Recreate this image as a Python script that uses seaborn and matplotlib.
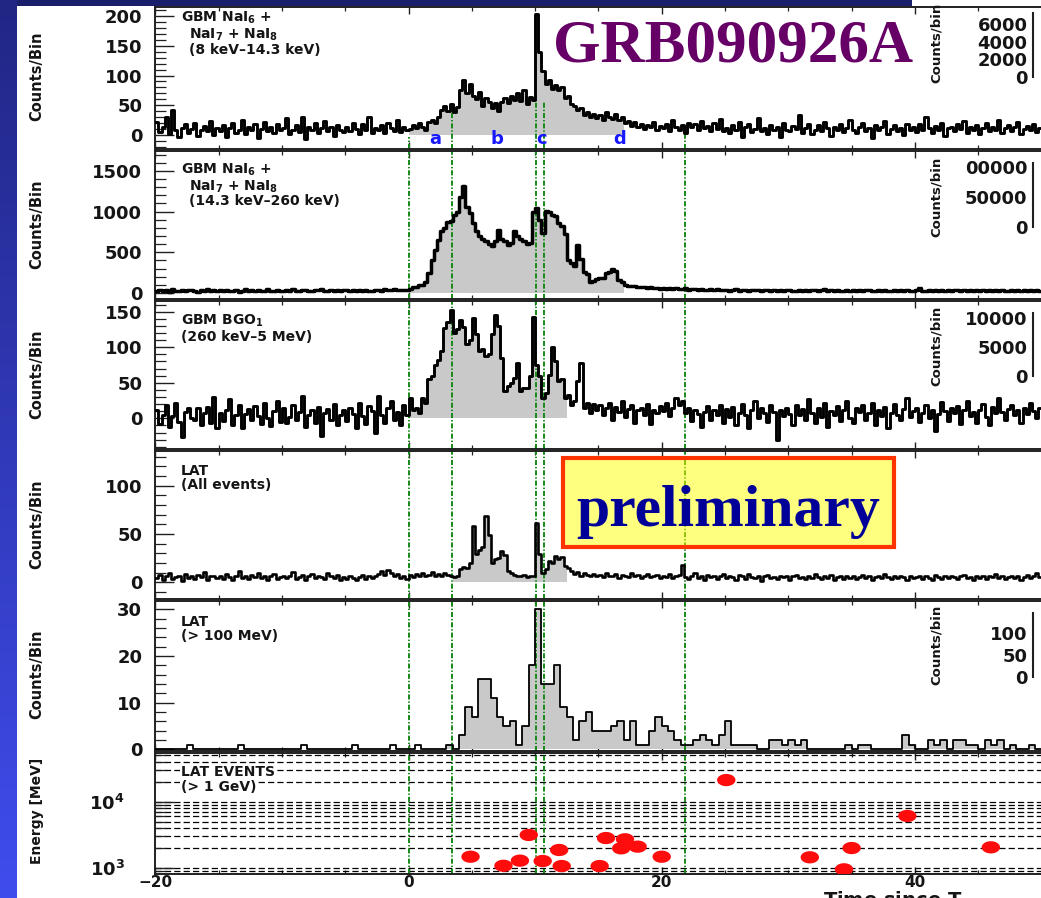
import numpy as np
import pandas as pd
import matplotlib
matplotlib.use("Agg")
import matplotlib.pyplot as plt
import seaborn as sns
from matplotlib.patches import Rectangle
from matplotlib.path import Path
from matplotlib.markers import MarkerStyle
from matplotlib.ticker import (MultipleLocator, FixedLocator, FixedFormatter,
                               LogLocator, NullFormatter)

# ---------------------------------------------------------------------------
# Light curves (counts per bin); bins start at T_START
# ---------------------------------------------------------------------------
T_START = -20.0
BIN_GBM = 0.25
BIN_LAT = 0.5

# GBM NaI 6+7+8, 8 keV - 14.3 keV
nai_low = [
    22, 5, 14, 30, 2, 42, 8, -4, 12, 18, 3, 10, 20, -2, 9, 15, 6, 24, 0, 11,
    7, 16, -3, 12, 21, 4, 9, 26, 1, 13, 8, 18, -5, 10, 22, 6, 14, 3, 19, 8,
    12, 28, 2, 9, 17, 5, 30, -6, 14, 8, 20, 3, 11, 24, 7, 13, -2, 16, 9, 5,
    14, 6, 21, 10, 2, 18, 8, 31, 4, 12, 9, 16, 3, 20, 11, 7, 25, 5, 13, 9,
    10, 17, 12, 20, 14, 9, 22, 26, 20, 31, 42, 48, 40, 52, 38, 47, 76, 92, 70, 85,
    66, 60, 72, 48, 63, 55, 46, 53, 41, 56, 62, 54, 66, 59, 71, 57, 76, 52, 64, 58,
    204, 140, 108, 86, 92, 78, 84, 76, 80, 62, 66, 52, 48, 42, 46, 34, 38, 30, 36, 28,
    34, 26, 38, 30, 27, 35, 25, 31, 20, 24, 15, 22, 14, 19, 10, 17, 13, 22, 8, 15,
    12, 19, 6, 26, 14, 9, 17, 4, 21, 13, 18, 8, 24, 11, 15, 7, 20, 10, 27, 6,
    11, 3, 16, 9, 22, -3, 13, 18, 5, 10, 28, 7, 12, 2, 17, 9, 14, -4, 20, 8,
    6, 15, 10, 34, 4, 12, 19, 1, 9, 16, 7, 22, 11, -2, 14, 8, 18, 5, 12, 25,
    9, 3, 14, 20, 6, 11, -5, 16, 8, 13, 24, 2, 10, 17, 7, 12, 0, 19, 9, 14,
    5, 18, 8, 30, 12, 3, 15, 9, 21, -2, 11, 14, 6, 19, 10, 24, 4, 13, 8, 16,
    2, 12, 20, 7, 14, 9, 26, 3, 11, 17, 6, 13, 22, 1, 10, 15, 8, 19, 5, 12,
]

# GBM NaI 6+7+8, 14.3 keV - 260 keV
nai_high = [
    28, 40, 22, 35, 18, 45, 30, 25, 38, 20, 33, 42, 27, 15, 36, 29, 48, 24, 31, 19,
    34, 26, 41, 22, 30, 38, 17, 29, 44, 25, 33, 21, 39, 28, 24, 46, 30, 19, 35, 27,
    23, 37, 30, 48, 26, 19, 34, 41, 28, 22, 36, 31, 45, 24, 29, 38, 20, 33, 27, 40,
    31, 25, 39, 28, 43, 22, 35, 30, 26, 41, 33, 29, 47, 38, 32, 44, 36, 40, 34, 42,
    55, 68, 72, 95, 104, 140, 240, 405, 530, 650, 760, 800, 875, 880, 960, 1000, 1180, 1320, 1060, 980,
    855, 760, 700, 660, 640, 600, 580, 640, 780, 660, 640, 590, 620, 760, 700, 660, 640, 600, 620, 1000,
    1050, 900, 740, 1010, 1000, 960, 940, 860, 820, 720, 400, 370, 330, 590, 420, 262, 230, 140, 150, 175,
    180, 190, 240, 260, 300, 270, 160, 130, 100, 86, 90, 80, 75, 68, 72, 62, 70, 58, 64, 55,
    60, 52, 57, 48, 63, 50, 45, 58, 40, 53, 47, 36, 50, 42, 38, 46, 33, 44, 39, 35,
    41, 30, 37, 45, 28, 34, 40, 25, 36, 31, 43, 27, 33, 38, 22, 35, 29, 41, 26, 32,
    37, 24, 30, 42, 28, 35, 20, 33, 39, 27, 31, 45, 23, 34, 29, 38, 25, 30, 36, 21,
    33, 27, 40, 24, 31, 36, 22, 29, 43, 26, 34, 30, 19, 37, 28, 32, 25, 41, 27, 30,
    35, 62, 30, 24, 38, 28, 33, 21, 36, 29, 40, 26, 31, 35, 23, 39, 28, 33, 26, 37,
    24, 32, 29, 41, 27, 34, 22, 36, 30, 26, 38, 25, 33, 29, 42, 27, 31, 24, 35, 28,
]

# GBM BGO 1, 260 keV - 5 MeV
bgo = [
    12, -8, 5, 18, -12, 3, 22, -5, -27, 9, 14, 1, -3, 15, -10, 7, 16, -6, 30, -14,
    8, -4, 11, 27, -9, 4, 19, -13, 6, 13, -2, 17, 3, -8, 21, 0, -11, 10, 24, -5,
    14, -7, 2, 18, -3, 9, 32, -12, 5, 11, -6, 16, -25, 7, 13, -2, 20, -9, 4, 12,
    -4, 15, 6, -14, 22, 3, -8, 17, 10, -20, 32, 5, -6, 14, 25, -3, 9, -10, 18, 4,
    28, 12, 15, 8, 29, 22, 55, 60, 75, 82, 94, 127, 136, 153, 120, 125, 138, 128, 104, 110,
    141, 118, 94, 98, 87, 90, 118, 146, 130, 85, 38, 45, 50, 57, 78, 38, 42, 43, 60, 143,
    75, 60, 29, 35, 61, 100, 80, 52, 55, 29, 33, 19, 24, 52, 78, 15, 22, 8, 20, 12,
    18, 5, 14, 22, -3, 16, 9, 24, 2, 13, 19, -6, 11, 15, 4, 20, -8, 12, 7, 17,
    10, 21, 3, 14, 28, 18, 24, 8, 15, -4, 12, 6, -12, 9, 17, -2, 11, 5, 19, -7,
    13, 2, 16, -9, 8, 20, 4, -14, 11, 25, 0, 14, 7, -5, 18, 9, -30, 12, 3, 15,
    6, -10, 19, 4, 13, -3, 27, 8, -7, 15, 2, 21, -12, 10, 5, 17, -4, 11, 24, 1,
    -6, 14, 9, 18, -2, 7, 22, -9, 12, 3, 16, -14, 8, 20, 5, -3, 13, 29, 2, 10,
    15, -5, 8, 19, 1, 12, -18, 6, 23, 10, -4, 14, 7, 17, -8, 11, 25, 3, 9, -6,
    12, 20, 2, -10, 16, 7, 28, 9, -3, 13, 19, 4, 11, -7, 15, 6, 22, 10, 1, 14,
]

# LAT, all events
lat_all = [
    4, 8, 2, 6, 10, 3, 5, 7, 1, 9, 4, 6, 3, 8, 5, 11, 2, 6, 7, 4,
    6, 3, 9, 5, 2, 7, 12, 4, 6, 3, 8, 5, 10, 4, 7, 2, 6, 9, 3, 5,
    7, 4, 6, 11, 3, 5, 8, 2, 6, 9, 4, 7, 5, 3, 10, 6, 4, 8, 2, 5,
    3, 6, 4, 2, 5, 8, 3, 6, 4, 7, 9, 12, 8, 13, 10, 6, 9, 4, 7, 3,
    8, 5, 9, 6, 10, 7, 8, 11, 6, 9, 7, 10, 8, 6, 5, 7, 14, 16, 15, 20,
    58, 29, 33, 36, 69, 49, 20, 24, 25, 32, 28, 12, 10, 8, 7, 6, 8, 5, 7, 6,
    61, 29, 10, 14, 22, 20, 27, 24, 26, 17, 15, 12, 9, 11, 7, 10, 8, 6, 9, 7,
    8, 5, 10, 7, 6, 9, 4, 8, 7, 5, 10, 6, 8, 4, 7, 9, 5, 6, 8, 4,
    7, 5, 9, 4, 6, 8, 18, 5, 3, 7, 10, 4, 6, 2, 8, 5, 7, 3, 6, 9,
    4, 7, 5, 2, 8, 6, 3, 9, 5, 4, 7, 1, 6, 8, 4, 5, 3, 7, 5, 6,
    2, 6, 8, 4, 5, 3, 7, 4, 9, 5, 3, 6, 4, 8, 2, 5, 7, 3, 6, 4,
    6, 3, 5, 8, 4, 7, 2, 5, 6, 4, 9, 5, 3, 6, 4, 7, 5, 2, 6, 4,
    5, 7, 3, 6, 4, 2, 8, 5, 3, 6, 4, 7, 5, 3, 6, 8, 4, 5, 2, 6,
    4, 6, 3, 7, 5, 9, 4, 6, 3, 5, 7, 4, 6, 2, 5, 8, 4, 6, 10, 5,
]

# LAT, > 100 MeV (0.5 s bins)
lat_100mev = [
    0, 0, 0, 0, 0, 1, 0, 0, 0, 0,
    0, 0, 0, 1, 0, 0, 0, 0, 0, 0,
    0, 0, 0, 1, 0, 0, 0, 0, 0, 0,
    0, 1, 0, 0, 0, 0, 0, 1, 0, 0,
    0, 1, 0, 0, 0, 0, 1, 0, 3, 9,
    7, 15, 15, 11, 7, 5, 6, 1, 5, 18,
    30, 14, 14, 18, 9, 7, 2, 6, 8, 4,
    4, 4, 5, 6, 2, 6, 1, 1, 4, 7,
    5, 4, 2, 1, 1, 2, 3, 2, 1, 3,
    6, 1, 1, 1, 1, 0, 0, 2, 2, 1,
    2, 1, 2, 0, 0, 0, 0, 0, 0, 1,
    0, 1, 1, 0, 0, 0, 0, 0, 3, 1,
    0, 0, 2, 1, 2, 0, 2, 2, 1, 1,
    0, 2, 1, 2, 0, 1, 0, 0, 1, 0,
]

# LAT events above 1 GeV: arrival time [s] and energy [MeV]
gev_time = [4.9, 7.5, 8.8, 9.5, 10.6, 11.9, 12.1, 15.1, 15.6, 16.8,
            17.1, 18.1, 20.0, 25.1, 31.7, 34.4, 35.0, 39.4, 46.0]
gev_energy = [1480, 1080, 1290, 3150, 1275, 1870, 1070, 1070, 2830, 1980,
              2710, 2100, 1480, 21200, 1450, 955, 2000, 6090, 2050]

# time intervals a-d
interval_edges = [0.0, 3.45, 10.08, 10.7, 21.85]
interval_names = ["a", "b", "c", "d"]
interval_label_t = [2.1, 6.97, 10.5, 16.7]
interval_top_nai_low = [-3, 39, 55, 55, 14]

# shaded (T90-like) spans per light curve
fill_spans = [(0.0, 17.0), (0.0, 17.0), (0.0, 12.5), (3.5, 12.5), (2.0, 51.0)]

# secondary count-rate scales
side_ticks = [[0, 2000, 4000, 6000], [0, 50000, 100000], [0, 5000, 10000], [0, 50, 100]]
side_tick_labels = [["0", "2000", "4000", "6000"], ["0", "50000", "00000"],
                    ["0", "5000", "10000"], ["0", "50", "100"]]
side_max = [7294, 106700, 10918, 145]
side_minor = [250, 5000, 500, 5]

panel_titles = [
    ["GBM NaI$_6$ +", "NaI$_7$ + NaI$_8$", "(8 keV\u201314.3 keV)"],
    ["GBM NaI$_6$ +", "NaI$_7$ + NaI$_8$", "(14.3 keV\u2013260 keV)"],
    ["GBM BGO$_1$", "(260 keV\u20135 MeV)"],
    ["LAT", "(All events)"],
    ["LAT", "(> 100 MeV)"],
    ["LAT EVENTS", "(> 1 GeV)"],
]

# ---------------------------------------------------------------------------
sns.set_theme(style="white")
plt.rcParams["font.family"] = ["DejaVu Sans"]
plt.rcParams["font.weight"] = "bold"
plt.rcParams["mathtext.default"] = "bf"
plt.rcParams["axes.edgecolor"] = "#202020"
plt.rcParams["xtick.color"] = "#202020"
plt.rcParams["ytick.color"] = "#202020"
plt.rcParams["text.color"] = "#151515"

W, H = 1041, 898
X_LEFT, X_RIGHT = 155.3, 1052.0
PX_PER_S = 12.66
XMAX = T_START + (X_RIGHT - X_LEFT) / PX_PER_S
FILL = "#c9c9c9"
GREEN = "#168a16"
INK = "#151515"


def fx(x):
    return x / W


def fy(y):
    return 1 - y / H


def rect(top, bottom):
    return [X_LEFT / W, 1 - bottom / H, (X_RIGHT - X_LEFT) / W, (bottom - top) / H]


fig = plt.figure(figsize=(W / 100, H / 100), dpi=100, facecolor="white")

# slide background: gradient strip on the left, dark band along the top
strip = fig.add_axes([0, 0, 17 / W, 1])
g = np.linspace(0, 1, 256)[:, None]
c_top = np.array([0.13, 0.15, 0.52])
c_bot = np.array([0.25, 0.30, 0.93])
strip.imshow((c_top * (1 - g) + c_bot * g)[:, None, :], aspect="auto", extent=[0, 1, 0, 1])
strip.set_axis_off()
fig.add_artist(Rectangle((0, fy(6)), 912 / W, 6 / H, transform=fig.transFigure,
                         facecolor=(0.10, 0.12, 0.42), edgecolor="none", zorder=0))

panel_px = [(7, 149), (151, 299), (301, 449), (451, 599), (601, 751), (753, 874)]
ylims = [(-23.5, 215.1), (-73.7, 1744.5), (-43.2, 165.0), (-17.3, 135.8), (-0.36, 31.76),
         (10 ** 2.9095, 10 ** 4.7345)]
y_major = [50, 500, 50, 50, 10]
y_minor = [10, 100, 10, 10, 2]

axes = []
for i, (top, bottom) in enumerate(panel_px):
    ax = fig.add_axes(rect(top, bottom))
    ax.set_facecolor("white")
    for s in ax.spines.values():
        s.set_linewidth(1.4)
        s.set_color("#202020")
    axes.append(ax)


def draw_curve(ax, counts, bw, span, lw):
    counts = np.asarray(counts, dtype=float)
    edges = T_START + bw * np.arange(len(counts) + 1)
    df = pd.DataFrame({"t": edges, "n": np.append(counts, counts[-1])})
    sel = (edges >= span[0]) & (edges <= span[1])
    ax.fill_between(df.t[sel], np.clip(df.n[sel], 0, None), 0, step="post",
                    color=FILL, lw=0, zorder=1)
    sns.lineplot(data=df, x="t", y="n", drawstyle="steps-post", color="black",
                 lw=lw, ax=ax, estimator=None, sort=False, errorbar=None, zorder=3)


series = [nai_low, nai_high, bgo, lat_all, lat_100mev]
bins = [BIN_GBM, BIN_GBM, BIN_GBM, BIN_GBM, BIN_LAT]
widths = [2.1, 2.5, 2.1, 1.9, 1.3]
for i in range(5):
    draw_curve(axes[i], series[i], bins[i], fill_spans[i], widths[i])

# interval markers
dashdot = (0, (2.6, 1.0, 0.7, 1.0))
axes[0].vlines(interval_edges, ylims[0][0], interval_top_nai_low, colors=GREEN,
               lw=1.4, linestyles=[dashdot], zorder=2)
for ax in axes[1:]:
    for t in interval_edges:
        ax.axvline(t, color=GREEN, lw=1.4, ls=dashdot, zorder=2)
for name, t in zip(interval_names, interval_label_t):
    axes[0].text(t, -7.3, name, color="#1818ff", fontsize=13, fontweight="bold",
                 ha="center", va="center", zorder=4)

# high-energy events
ax6 = axes[5]
ax6.set_yscale("log")
theta = np.linspace(0, 2 * np.pi, 60)
ellipse = Path(np.column_stack([1.5 * np.cos(theta), np.sin(theta)]), closed=True)
sns.scatterplot(x=gev_time, y=gev_energy, ax=ax6, marker=MarkerStyle(ellipse), s=175,
                color="#ff0c0c", edgecolor="none", linewidth=0, zorder=5)
ax6.grid(True, which="both", axis="y", color="black", lw=0.9, ls=(0, (5, 2.5)))
ax6.grid(False, axis="x")

# axes cosmetics
for i, ax in enumerate(axes):
    ax.set_xlim(T_START, XMAX)
    ax.set_ylim(*ylims[i])
    ax.set_xlabel("")
    ax.set_ylabel("")
    ax.xaxis.set_major_locator(MultipleLocator(20))
    ax.xaxis.set_minor_locator(MultipleLocator(5))
    ax.tick_params(axis="x", which="major", direction="in", length=5, width=1.0,
                   top=True, bottom=True, labelbottom=(i == 5), pad=0.5,
                   labelsize=11, labelcolor=INK)
    ax.tick_params(axis="x", which="minor", direction="in", length=3, width=0.9,
                   top=True, bottom=True)
    if i < 5:
        ax.yaxis.set_major_locator(MultipleLocator(y_major[i]))
        ax.yaxis.set_minor_locator(MultipleLocator(y_minor[i]))
        ypad = 9.4
    else:
        ax.yaxis.set_major_locator(LogLocator(base=10, numticks=10))
        ax.yaxis.set_minor_locator(LogLocator(base=10, subs=np.arange(2, 10), numticks=20))
        ax.yaxis.set_minor_formatter(NullFormatter())
        ypad = 22
    ax.tick_params(axis="y", which="major", direction="in", length=13.7, width=1.0,
                   left=True, right=False, pad=ypad, labelsize=13, labelcolor=INK)
    ax.tick_params(axis="y", which="minor", direction="in", length=7.9, width=0.9,
                   left=True, right=False)
    for lab in ax.get_xticklabels() + ax.get_yticklabels():
        lab.set_fontweight("bold")

# panel captions
title_rows = [
    [(181, 22), (189, 39), (189, 54)],
    [(181, 173.5), (189, 190.5), (189, 205.5)],
    [(181, 324.5), (181, 341)],
    [(181, 475), (181, 489.3)],
    [(181, 625.7), (181, 640)],
    [(181, 775.7), (181, 790.7)],
]
for i, rows in enumerate(title_rows):
    for txt, (x, y) in zip(panel_titles[i], rows):
        kw = {}
        if i == 5:
            kw["bbox"] = dict(facecolor="white", edgecolor="none", pad=0.6)
        fig.text(fx(x), fy(y), txt, fontsize=10, fontweight="bold", ha="left",
                 va="baseline", color=INK, zorder=6, **kw)

# left-hand axis titles
ylab_y = [76, 224, 374, 524, 674]
for y in ylab_y:
    fig.text(fx(37), fy(y), "Counts/Bin", rotation=90, ha="center", va="center",
             fontsize=10.5, fontweight="bold", color=INK)
fig.text(fx(37), fy(811), "Energy [MeV]", rotation=90, ha="center", va="center",
         fontsize=10, fontweight="bold", color=INK)
fig.text(fx(823), fy(890), "Time since T$_0$", ha="left", va="top", fontsize=14,
         fontweight="bold", color=INK)

# secondary count-rate scales on the right
side_px = [(76.7, 13), (227, 163), (376, 313), (677, 613)]
side_label_y = [43, 197, 346, 645]
for k, (y0, y1) in enumerate(side_px):
    sa = fig.add_axes([1033 / W, fy(y0), 12 / W, (y0 - y1) / H])
    sa.patch.set_visible(False)
    for s in ("top", "right", "bottom"):
        sa.spines[s].set_visible(False)
    sa.spines["left"].set_linewidth(1.5)
    sa.spines["left"].set_color("#202020")
    sa.set_xticks([])
    sa.set_ylim(0, side_max[k])
    sa.yaxis.set_major_locator(FixedLocator(side_ticks[k]))
    sa.yaxis.set_major_formatter(FixedFormatter(side_tick_labels[k]))
    sa.yaxis.set_minor_locator(MultipleLocator(side_minor[k]))
    sa.tick_params(axis="y", which="major", direction="in", length=8, width=1.1,
                   pad=4, labelsize=13, labelcolor=INK)
    sa.tick_params(axis="y", which="minor", direction="in", length=7, width=1.0)
    for lab in sa.get_yticklabels():
        lab.set_fontweight("bold")
    fig.text(fx(936), fy(side_label_y[k]), "Counts/bin", rotation=90, ha="center",
             va="center", fontsize=9.5, fontweight="bold", color=INK)

# burst name and stamp
fig.text(fx(553), fy(62), "GRB090926A", family="Liberation Serif", fontweight="bold",
         fontsize=44, color="#660066", ha="left", va="baseline", zorder=7)
fig.add_artist(Rectangle((fx(563), fy(547)), (894 - 563) / W, (547 - 458) / H,
                         transform=fig.transFigure, facecolor=(1, 1, 0, 0.5),
                         edgecolor="#ff3300", lw=3, zorder=6))
fig.text(fx(728.5), fy(526), "preliminary", family="Liberation Serif", fontweight="bold",
         fontsize=43, color="#000099", ha="center", va="baseline", zorder=7)

fig.savefig("out.png", dpi=100, facecolor="white")
